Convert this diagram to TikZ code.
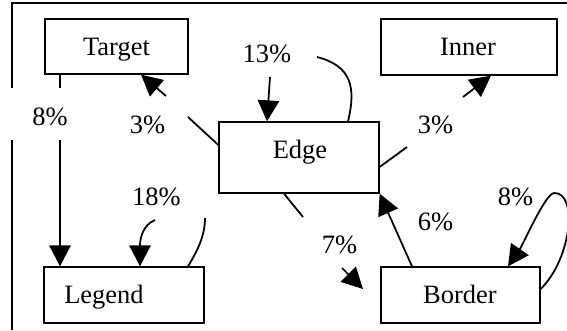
\documentclass[tikz,border=0pt]{standalone}
\usepackage{fontspec}
\setmainfont{Liberation Serif}
\usetikzlibrary{arrows.meta}
\tikzset{
  box/.style={draw, line width=1.1pt, inner sep=0pt, rectangle},
  txt/.style={anchor=base, inner sep=0pt, font=\fontsize{22.6}{27}\selectfont},
  conn/.style={line width=1.5pt},
  arr/.style={conn, -{Triangle[length=0.63cm,width=0.64cm]}},
  frameline/.style={line width=1.8pt}
}
\begin{document}
\begin{tikzpicture}[x=0.03cm,y=-0.03cm]
\useasboundingbox (0,0) rectangle (567,330);

% boxes
\node[box, minimum width=4.29cm, minimum height=1.65cm] (Target) at (116.5,46.5) {};
\node[box, minimum width=5.28cm, minimum height=1.68cm] (Inner)  at (469,47) {};
\node[box, minimum width=4.8cm,  minimum height=2.13cm] (Edge)   at (299,157.5) {};
\node[box, minimum width=4.8cm,  minimum height=1.68cm] (Legend) at (124,295) {};
\node[box, minimum width=4.77cm, minimum height=1.68cm] (Border) at (460.5,295) {};

% box texts
\node[txt] (tTarget) at (116.5,55) {Target};
\node[txt] (tInner)  at (468,55) {Inner};
\node[txt] (tEdge)   at (300,158) {Edge};
\node[txt] (tLegend) at (104,303) {Legend};
\node[txt] (tBorder) at (460,303) {Border};

% frame
\coordinate (fTL) at (12,3);
\coordinate (fTR) at (567,3);
\coordinate (fg1) at (12,88);
\coordinate (fg2) at (12,140);
\coordinate (fB)  at (12,330);
\draw[frameline] (fg1) -- (fTL) -- (fTR);
\draw[frameline] (fg2) -- (fB);

% Target -> Legend (8%)
\coordinate (a1) at (60,88);
\coordinate (a2) at (60,140);
\draw[conn] (Target.south -| a1) -- (a1);
\draw[arr] (a2) -- (Legend.north -| a2);

% Edge -> Target (3%)
\coordinate (b0) at (219,145);
\coordinate (b1) at (188,117);
\coordinate (b2) at (166,96);
\coordinate (b3) at (141,74);
\draw[conn] (Edge.west |- b0) -- (b1);
\draw[arr] (b2) -- (Target.south -| b3);

% Edge -> Edge (13%)
\coordinate (c0) at (348,122);
\coordinate (c1) at (317,57);
\coordinate (c2) at (270,77);
\coordinate (c3) at (267,122);
\draw[conn] (Edge.north -| c0) .. controls (356,88) and (352,66) .. (c1);
\draw[arr] (c2) -- (Edge.north -| c3);

% Edge -> Inner (3%)
\coordinate (d0) at (379,167);
\coordinate (d1) at (407,147);
\coordinate (d2) at (463,97);
\coordinate (d3) at (491,75);
\draw[conn] (Edge.east |- d0) -- (d1);
\draw[arr] (d2) -- (Inner.south -| d3);

% Edge -> Border (7%)
\coordinate (e0) at (284,193);
\coordinate (e1) at (303,217);
\coordinate (e2) at (342,268);
\coordinate (e3) at (363,289);
\draw[conn] (Edge.south -| e0) -- (e1);
\draw[arr] (e2) -- (e3);

% Border -> Edge (6%)
\coordinate (f0) at (412,267);
\draw[arr] (Border.north -| f0) -- (Edge.south east);

% Border -> Border (8%)
\coordinate (g0) at (541,289);
\coordinate (g1) at (554,193);
\coordinate (g2) at (508,267);
\draw[arr] (Border.east |- g0) .. controls (572,258) and (578,192) .. (g1)
  .. controls (545,194) and (524,243) .. (Border.north -| g2);

% Legend -> Legend (18%)
\coordinate (h0) at (188,267);
\coordinate (h1) at (205,218);
\coordinate (h2) at (155,220);
\coordinate (h3) at (140,267);
\draw[conn] (Legend.north -| h0) .. controls (198,250) and (205,235) .. (h1);
\draw[arr] (h2) .. controls (143,225) and (140,238) .. (Legend.north -| h3);

% labels
\node[txt] (l1) at (50,125) {8\%};
\node[txt] (l2) at (147.5,133) {3\%};
\node[txt] (l3) at (267,62) {13\%};
\node[txt] (l4) at (435.5,133) {3\%};
\node[txt] (l5) at (156.5,205) {18\%};
\node[txt] (l6) at (339.5,253) {7\%};
\node[txt] (l7) at (435.5,230) {6\%};
\node[txt] (l8) at (515.5,205) {8\%};
\end{tikzpicture}
\end{document}
